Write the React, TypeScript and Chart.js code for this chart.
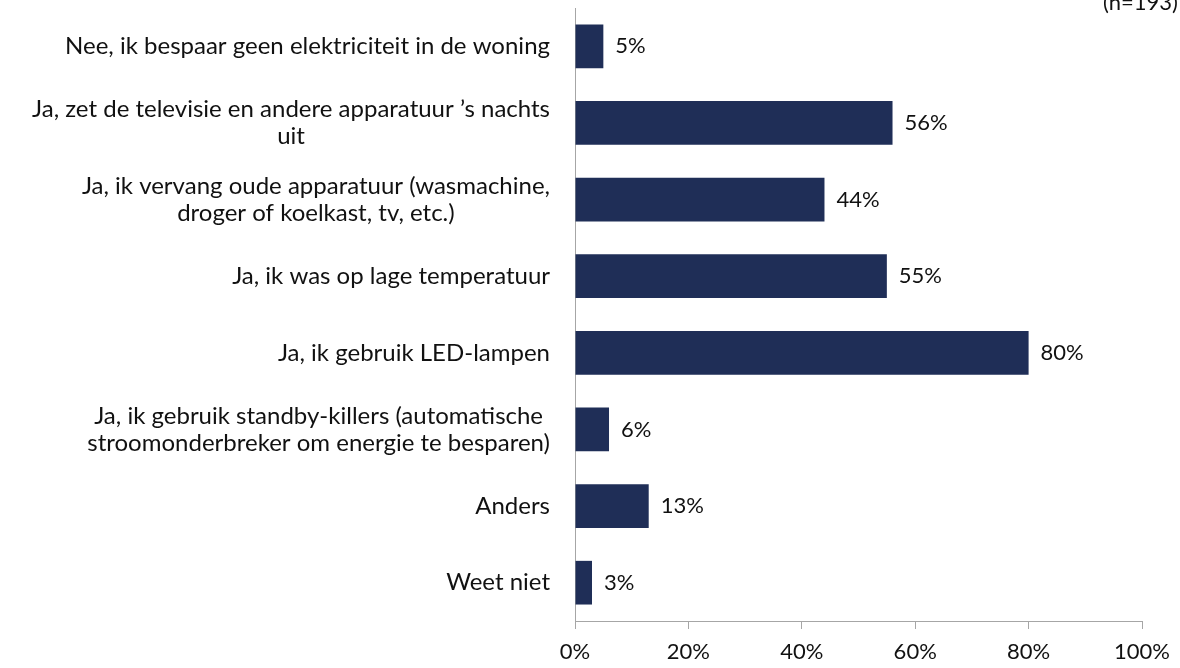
import React, { useEffect, useRef } from "react";
import { Chart, registerables } from "chart.js";

Chart.register(...registerables);

const categories: string[][] = [
  ["Nee, ik bespaar geen elektriciteit in de woning"],
  ["Ja, zet de televisie en andere apparatuur \u2019s nachts", "uit"],
  ["Ja, ik vervang oude apparatuur (wasmachine,", "droger of koelkast, tv, etc.)"],
  ["Ja, ik was op lage temperatuur"],
  ["Ja, ik gebruik LED-lampen"],
  ["Ja, ik gebruik standby-killers (automatische", "stroomonderbreker om energie te besparen)"],
  ["Anders"],
  ["Weet niet"],
];
const values: number[] = [5, 56, 44, 55, 80, 6, 13, 3];
const xTicks: number[] = [0, 20, 40, 60, 80, 100];
const sampleNote = "(n=193)";

const FONT = "Lato, sans-serif";
const FS = 22;
const FS_CAT = 24;
const BAR = "#1f2e57";
const AXIS = "#a6a6a6";

const customPlugin = {
  id: "custom",
  afterDatasetsDraw(chart: any) {
    const ctx = chart.ctx;
    const meta = chart.getDatasetMeta(0);
    const yScale = chart.scales.y;
    const left = chart.chartArea.left;
    ctx.save();
    ctx.fillStyle = "#111";
    ctx.font = `${FS}px ${FONT}`;
    ctx.textBaseline = "middle";
    // value labels
    meta.data.forEach((bar: any, i: number) => {
      ctx.textAlign = "left";
      ctx.fillText(values[i] + "%", bar.x + 12, bar.y);
    });
    // category labels
    ctx.font = `${FS_CAT}px ${FONT}`;
    const right = left - 25;
    const lh = 27;
    categories.forEach((lines, i) => {
      const cy = yScale.getPixelForValue(i);
      const widths = lines.map((l) => ctx.measureText(l).width);
      const maxW = Math.max(...widths);
      const startY = cy - ((lines.length - 1) * lh) / 2;
      lines.forEach((l, j) => {
        ctx.textAlign = "center";
        ctx.fillText(l, right - maxW / 2, startY + j * lh);
      });
    });
    // sample note
    ctx.font = `${FS}px ${FONT}`;
    ctx.textAlign = "left";
    ctx.textBaseline = "alphabetic";
    ctx.fillText(sampleNote, 1103, 10);
    ctx.restore();
  },
};

export default function App() {
  const ref = useRef<HTMLCanvasElement>(null);
  useEffect(() => {
    if (!ref.current) return;
    const chart = new Chart(ref.current, {
      type: "bar",
      data: {
        labels: categories.map((c) => c.join(" ")),
        datasets: [
          {
            data: values,
            backgroundColor: BAR,
            borderWidth: 0,
            barPercentage: 0.57,
            categoryPercentage: 1,
          },
        ],
      },
      options: {
        indexAxis: "y",
        animation: false,
        responsive: false,
        maintainAspectRatio: false,
        layout: { padding: { left: 575, right: 38, top: 8, bottom: 0 } },
        plugins: {
          legend: { display: false },
          tooltip: { enabled: false },
        },
        scales: {
          x: {
            min: 0,
            max: 100,
            afterBuildTicks: (scale: any) => {
              scale.ticks = xTicks.map((v) => ({ value: v }));
            },
            afterFit: (scale: any) => {
              scale.height = 47;
            },
            ticks: {
              callback: (v: any) => v + "%",
              color: "#111",
              font: { family: FONT, size: FS },
              padding: 10,
              maxRotation: 0,
            },
            grid: {
              display: true,
              drawOnChartArea: false,
              drawTicks: true,
              tickLength: 8,
              color: AXIS,
            },
            border: { display: true, color: AXIS, width: 1 },
          },
          y: {
            ticks: { display: false },
            grid: { display: false, drawTicks: false },
            border: { display: true, color: AXIS, width: 1 },
          },
        },
      },
      plugins: [customPlugin],
    });
    return () => chart.destroy();
  }, []);
  return (
    <div style={{ position: "fixed", left: 0, top: 0, width: 1180, height: 668, background: "#fff" }}>
      <canvas ref={ref} width={1180} height={668} style={{ display: "block" }} />
    </div>
  );
}
